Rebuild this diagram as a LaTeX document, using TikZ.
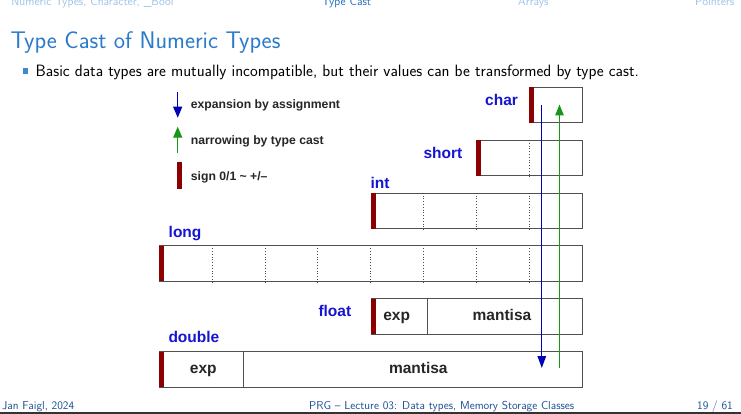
\documentclass[tikz,border=0pt]{standalone}
\usepackage{fontspec}
\newfontfamily\arialf{Liberation Sans}
\usetikzlibrary{arrows.meta}
\definecolor{navlight}{HTML}{9CC3E8}
\definecolor{navdark}{HTML}{1F6DBF}
\definecolor{titleblue}{HTML}{2B7BCB}
\definecolor{footblue}{HTML}{1B4E96}
\definecolor{lblblue}{HTML}{1414D2}
\definecolor{signred}{HTML}{8B0000}
\definecolor{arrblue}{HTML}{0000B4}
\definecolor{arrgreen}{HTML}{179617}
\definecolor{boxgray}{HTML}{505050}
\begin{document}
\begin{tikzpicture}[x=1pt,y=-1pt,
  txt/.style={inner sep=0pt, anchor=base west},
  navtxt/.style={txt, font=\sffamily\fontsize{11.8}{13}\selectfont},
  foottxt/.style={txt, text=footblue, font=\sffamily\fontsize{11.5}{13}\selectfont},
  lbl/.style={txt, text=lblblue, font=\arialf\bfseries\fontsize{15.5}{18}\selectfont},
  legtxt/.style={txt, text=black!85, font=\arialf\bfseries\fontsize{12.2}{14}\selectfont},
  celltxt/.style={inner sep=0pt, anchor=base, text=black!85, font=\arialf\bfseries\fontsize{15.5}{18}\selectfont},
  cell/.style={draw=boxgray, line width=1pt, anchor=north west, inner sep=0pt, minimum height=35.5pt},
  sign/.style={fill=signred},
  div/.style={draw=black!70, dotted, line width=0.8pt},
  soliddiv/.style={draw=boxgray, line width=1pt}
]
\useasboundingbox (0,0) rectangle (741,414);
\fill[white] (0,0) rectangle (741,414);

% navigation
\node[navtxt, text=navlight] (n1) at (11.2,5.5) {Numeric Types, Character, \_Bool};
\node[navtxt, text=navdark] (n2) at (322,5.5) {Type Cast};
\node[navtxt, text=navlight] (n3) at (518,5.5) {Arrays};
\node[navtxt, text=navlight] (n4) at (695,5.5) {Pointers};

% title
\node[txt, text=titleblue, font=\sffamily\fontsize{24}{28}\selectfont] (title) at (10.5,48.5) {Type Cast of Numeric Types};

% bullet
\fill[titleblue!90] (22.5,68.5) rectangle (28,74);
\node[txt, font=\sffamily\fontsize{16.4}{19}\selectfont] (bul) at (35.5,76.5) {Basic data types are mutually incompatible, but their values can be transformed by type cast.};

% legend
\coordinate (l1t) at (177.7,92);
\coordinate (l1b) at (177.7,117.7);
\draw[arrblue, line width=1.2pt, -{Triangle[width=9pt,length=11pt]}] (l1t) -- (l1b);
\coordinate (l2b) at (177.7,152.7);
\coordinate (l2t) at (177.7,126.7);
\draw[arrgreen, line width=1.2pt, -{Triangle[width=9pt,length=11pt]}] (l2b) -- (l2t);
\fill[signred] (176.7,161.7) rectangle (182.3,189);
\node[legtxt] (t1) at (190.7,108.5) {expansion by assignment};
\node[legtxt] (t2) at (190.7,145) {narrowing by type cast};
\node[legtxt] (t3) at (190.7,180.3) {sign 0/1 \textasciitilde{} +/\textendash};

% boxes
\node[cell, minimum width=53.3pt] (char) at (529,87) {};
\node[cell, minimum width=106.3pt] (short) at (476,140) {};
\node[cell, minimum width=211.6pt] (int) at (370.7,192.8) {};
\node[cell, minimum width=423pt] (long) at (159.3,245.3) {};
\node[cell, minimum width=211.6pt] (float) at (370.7,298) {};
\node[cell, minimum width=423pt] (double) at (159.3,351) {};

% dividers
\draw[div] ([xshift=53pt]short.north west) -- ([xshift=53pt]short.south west);
\foreach \k in {1,2,3}
  \draw[div] ([xshift=\k*52.9pt]int.north west) -- ([xshift=\k*52.9pt]int.south west);
\foreach \k in {1,...,7}
  \draw[div] ([xshift=\k*52.86pt]long.north west) -- ([xshift=\k*52.86pt]long.south west);
\draw[soliddiv] ([xshift=57pt]float.north west) -- ([xshift=57pt]float.south west);
\draw[soliddiv] ([xshift=84pt]double.north west) -- ([xshift=84pt]double.south west);

% sign bars
\foreach \b in {char,short,int,long,float,double}
  \fill[signred] ([yshift=-0.5pt]\b.north west) rectangle ([xshift=5pt,yshift=0.5pt]\b.south west);

% labels
\node[lbl] (lchar) at (485,106) {char};
\node[lbl] (lshort) at (423.3,158.3) {short};
\node[lbl] (lint) at (370.3,188.5) {int};
\node[lbl] (llong) at (168.5,237.5) {long};
\node[lbl] (lfloat) at (318.3,316) {float};
\node[lbl] (ldouble) at (168.3,342.3) {double};

% cell texts
\node[celltxt] (fexp) at (396.7,320.7) {exp};
\node[celltxt] (fman) at (502,320.7) {mantisa};
\node[celltxt] (dexp) at (203.3,373.3) {exp};
\node[celltxt] (dman) at (418.3,373.3) {mantisa};

% conversion arrows
\coordinate (bt) at (541.8,105);
\coordinate (bb) at (541.8,368);
\draw[arrblue, line width=1.2pt, -{Triangle[width=8.5pt,length=12pt]}] (bt) -- (bb);
\coordinate (gb) at (559.5,368);
\coordinate (gt) at (559.5,104.5);
\draw[arrgreen, line width=1.2pt, -{Triangle[width=8.5pt,length=11pt]}] (gb) -- (gt);

% footer
\node[foottxt] (f1) at (2,409) {Jan Faigl, 2024};
\node[foottxt] (f2) at (309,409) {PRG \textendash{} Lecture 03: Data types, Memory Storage Classes};
\node[foottxt] (f3) at (697,409) {19 / 61};
\coordinate (fl) at (0,412.8);
\coordinate (fr) at (741,412.8);
\draw[black!80, line width=1.5pt] (fl) -- (fr);
\end{tikzpicture}
\end{document}
